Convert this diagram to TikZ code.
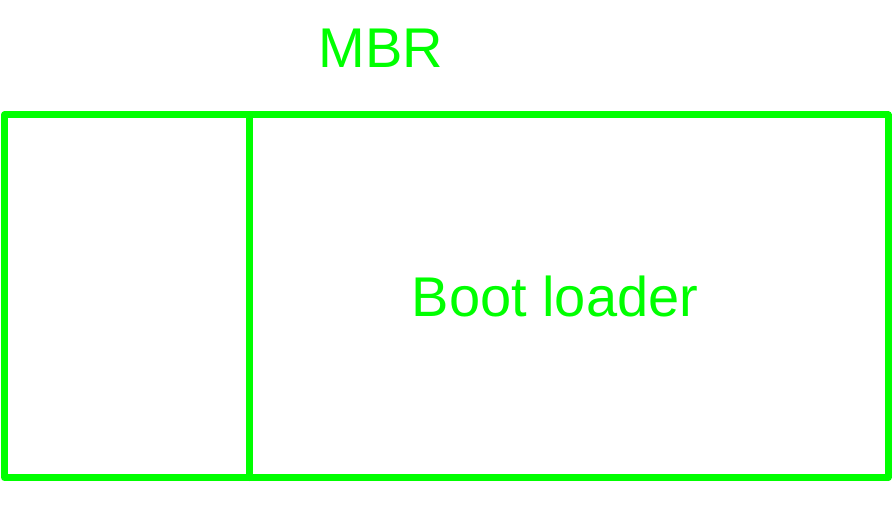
\documentclass[tikz,border=0pt]{standalone}
\usepackage{fontspec}
\setmainfont{Liberation Sans}
\definecolor{brightgreen}{RGB}{0,255,0}
\begin{document}
\begin{tikzpicture}[x=1pt,y=-1pt,
  boxline/.style={draw=brightgreen,line width=7pt,line join=round,line cap=round},
  lbl/.style={text=brightgreen,font=\fontsize{56}{60}\selectfont,inner sep=0pt,anchor=base}]
\useasboundingbox (0,0) rectangle (894,505);
\coordinate (tl) at (4.5,115);
\coordinate (br) at (888,477.5);
\coordinate (dtop) at (249.5,115);
\coordinate (dbot) at (249.5,477.5);
\draw[boxline] (tl) rectangle (br);
\draw[boxline] (dtop) -- (dbot);
\node[lbl] (mbr) at (381,68) {MBR};
\node[lbl] (boot) at (555,316) {Boot loader};
\end{tikzpicture}
\end{document}
